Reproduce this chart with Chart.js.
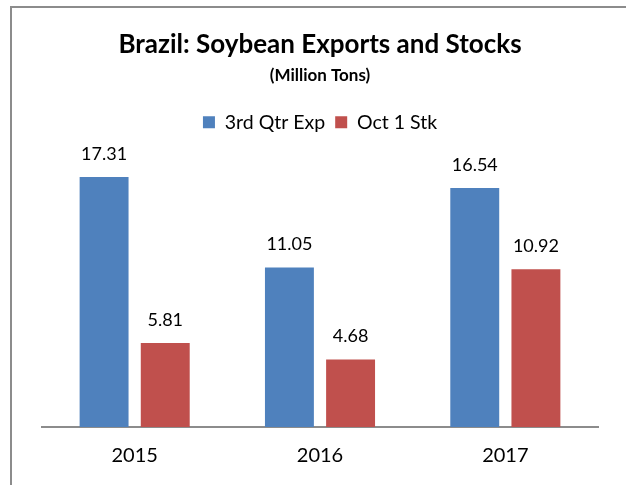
<!DOCTYPE html>
<html>
<head>
<meta charset="utf-8">
<script src="https://cdn.jsdelivr.net/npm/chart.js@4"></script>
<style>
  html, body { margin: 0; padding: 0; background: #fff; }
  #frame {
    position: absolute; left: 10px; top: 6px; width: 616px; height: 479px;
    border-left: 2px solid #8c8c8c; border-top: 2px solid #8c8c8c;
  }
  #wrap { position: absolute; left: 0; top: 0; width: 626px; height: 485px; }
</style>
</head>
<body>
<div id="frame"></div>
<div id="wrap"><canvas id="chart" width="626" height="485"></canvas></div>
<script>
// chart data
const years = ['2015', '2016', '2017'];
const exports3rdQtr = [17.31, 11.05, 16.54];
const stocksOct1 = [5.81, 4.68, 10.92];
const seriesNames = ['3rd Qtr Exp', 'Oct 1 Stk'];

const FONT = 'Lato, "Open Sans", sans-serif';

// draw value on top of each bar
const valueLabels = {
    id: 'valueLabels',
    afterDatasetsDraw(chart) {
        const ctx = chart.ctx;
        ctx.save();
        ctx.font = '18px ' + FONT;
        ctx.fillStyle = '#000';
        ctx.textAlign = 'center';
        ctx.textBaseline = 'middle';
        chart.data.datasets.forEach((ds, i) => {
            chart.getDatasetMeta(i).data.forEach((bar, j) => {
                ctx.fillText(ds.data[j].toFixed(2), bar.x, bar.y - 23);
            });
        });
        ctx.restore();
    }
};

// tighten the space below legend
const legendGap = {
    id: 'legendGap',
    beforeInit(chart) {
        const fit = chart.legend.fit;
        chart.legend.fit = function () {
            fit.bind(chart.legend)();
            this.height -= 4;
        };
    }
};

new Chart(document.getElementById('chart'), {
    type: 'bar',
    data: {
        labels: years,
        datasets: [
            { label: seriesNames[0], data: exports3rdQtr, backgroundColor: '#4f81bd' },
            { label: seriesNames[1], data: stocksOct1, backgroundColor: '#c0504d' }
        ]
    },
    options: {
        responsive: false,
        animation: false,
        layout: { padding: { left: 42, right: 28, top: 0, bottom: 0 } },
        datasets: { bar: { categoryPercentage: 0.66, barPercentage: 0.8 } },
        scales: {
            x: {
                grid: { display: false, drawTicks: false },
                border: { color: '#8c8c8c', width: 2 },
                ticks: { color: '#000', font: { family: FONT, size: 20 }, padding: 17 }
            },
            y: { display: false, min: 0, max: 20 }
        },
        plugins: {
            title: {
                display: true,
                text: 'Brazil: Soybean Exports and Stocks',
                color: '#000',
                font: { family: FONT, size: 26, weight: 'bold' },
                padding: { top: 29, bottom: 0 }
            },
            subtitle: {
                display: true,
                text: '(Million Tons)',
                color: '#000',
                font: { family: FONT, size: 17, weight: 'bold' },
                padding: { top: 5, bottom: 17 }
            },
            legend: {
                labels: {
                    color: '#000',
                    font: { family: FONT, size: 19.5 },
                    boxWidth: 12, boxHeight: 12,
                    padding: 10
                }
            },
            tooltip: { enabled: false }
        }
    },
    plugins: [valueLabels, legendGap]
});
</script>
</body>
</html>
